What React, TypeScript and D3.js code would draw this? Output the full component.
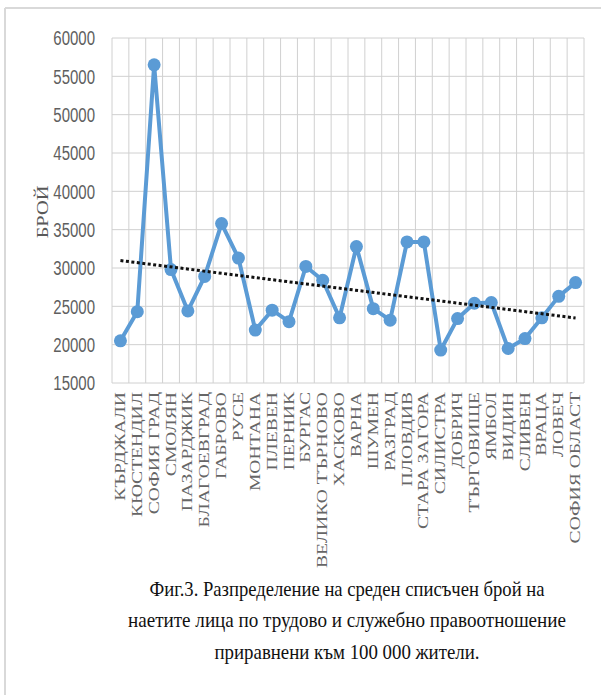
import React from "react";
import * as d3 from "d3";

const categories = [
  "КЪРДЖАЛИ", "КЮСТЕНДИЛ", "СОФИЯ ГРАД", "СМОЛЯН", "ПАЗАРДЖИК", "БЛАГОЕВГРАД",
  "ГАБРОВО", "РУСЕ", "МОНТАНА", "ПЛЕВЕН", "ПЕРНИК", "БУРГАС", "ВЕЛИКО ТЪРНОВО",
  "ХАСКОВО", "ВАРНА", "ШУМЕН", "РАЗГРАД", "ПЛОВДИВ", "СТАРА ЗАГОРА", "СИЛИСТРА",
  "ДОБРИЧ", "ТЪРГОВИЩЕ", "ЯМБОЛ", "ВИДИН", "СЛИВЕН", "ВРАЦА", "ЛОВЕЧ", "СОФИЯ ОБЛАСТ",
];

const values = [
  20500, 24300, 56500, 29800, 24400, 28900, 35800, 31300, 21900, 24500, 23000, 30200,
  28400, 23500, 32800, 24700, 23200, 33400, 33400, 19300, 23400, 25400, 25500, 19500,
  20800, 23500, 26300, 28100,
];

const yTicks = [15000, 20000, 25000, 30000, 35000, 40000, 45000, 50000, 55000, 60000];

const yTitle = "БРОЙ";

const captionLines = [
  "Фиг.3. Разпределение на среден списъчен брой на",
  "наетите лица по трудово и служебно правоотношение",
  "приравнени към 100 000 жители.",
];

export default function App() {
  const W = 601, H = 695;
  const left = 112, right = 584, top = 38, bottom = 383;

  const x = d3.scaleBand<string>().domain(categories).range([left, right]).padding(0);
  const y = d3.scaleLinear().domain([15000, 60000]).range([bottom, top]);
  const cx = (c: string) => (x(c) as number) + x.bandwidth() / 2;

  const line = d3
    .line<number>()
    .x((_, i) => cx(categories[i]))
    .y((v) => y(v));

  // Linear trendline (least squares)
  const n = values.length;
  const xs = d3.range(n);
  const mx = d3.mean(xs) as number;
  const my = d3.mean(values) as number;
  const slope =
    d3.sum(xs.map((i) => (i - mx) * (values[i] - my))) /
    d3.sum(xs.map((i) => (i - mx) * (i - mx)));
  const intercept = my - slope * mx;
  const t0 = intercept;
  const t1 = intercept + slope * (n - 1);

  const grid = "#d0d0d0";
  const boundaries = d3.range(n + 1).map((i) => left + i * x.bandwidth());

  const captionWidths = [395, 438, 265];
  const captionY = [596, 627, 659];

  return (
    <svg
      width={W}
      height={H}
      style={{ position: "absolute", left: 0, top: 0, background: "#fff" }}
    >
      {/* frame */}
      <line x1={5} y1={8} x2={W} y2={8} stroke="#d9d9d9" strokeWidth={2} />
      <line x1={5} y1={8} x2={5} y2={H} stroke="#d9d9d9" strokeWidth={2} />

      {/* horizontal grid */}
      {yTicks.map((t) => (
        <line key={"h" + t} x1={left} x2={right} y1={y(t)} y2={y(t)} stroke={grid} strokeWidth={1} />
      ))}
      {/* vertical grid */}
      {boundaries.map((bx, i) => (
        <line key={"v" + i} x1={bx} x2={bx} y1={top} y2={bottom} stroke={grid} strokeWidth={1} />
      ))}

      {/* y tick labels */}
      {yTicks.map((t) => (
        <text
          key={"yl" + t}
          transform={`translate(95,${y(t)}) scale(1,1.4)`}
          textAnchor="end"
          dominantBaseline="central"
          fontFamily="Liberation Sans, Arial, sans-serif"
          fontSize={15}
          fill="#5f5f5f"
        >
          {t}
        </text>
      ))}

      {/* y title */}
      <text
        transform={`translate(42,212) rotate(-90) scale(1.2,1)`}
        textAnchor="middle"
        dominantBaseline="central"
        fontFamily="Liberation Serif, Times New Roman, serif"
        fontSize={17}
        fill="#595959"
      >
        {yTitle}
      </text>

      {/* x labels */}
      {categories.map((c) => (
        <text
          key={"xl" + c}
          transform={`translate(${cx(c)},392) rotate(-90) scale(1.4,1)`}
          textAnchor="end"
          dominantBaseline="central"
          fontFamily="Liberation Serif, Times New Roman, serif"
          fontSize={14}
          fill="#666"
        >
          {c}
        </text>
      ))}

      {/* data line */}
      <path d={line(values) as string} fill="none" stroke="#5b9bd5" strokeWidth={4} strokeLinejoin="round" />
      {values.map((v, i) => (
        <circle key={"p" + i} cx={cx(categories[i])} cy={y(v)} r={6.5} fill="#5b9bd5" />
      ))}

      {/* trendline */}
      <line
        x1={cx(categories[0])}
        x2={cx(categories[n - 1])}
        y1={y(t0)}
        y2={y(t1)}
        stroke="#111"
        strokeWidth={3}
        strokeDasharray="3 2.5"
      />

      {/* caption */}
      {captionLines.map((l, i) => (
        <g key={"c" + i} transform={`translate(347,${captionY[i]}) scale(1,1.15)`}>
          <text
            x={0}
            y={0}
            textAnchor="middle"
            fontFamily="Liberation Serif, Times New Roman, serif"
            fontSize={18.5}
            fill="#111"
            textLength={captionWidths[i]}
            lengthAdjust="spacingAndGlyphs"
          >
            {l}
          </text>
        </g>
      ))}
    </svg>
  );
}
